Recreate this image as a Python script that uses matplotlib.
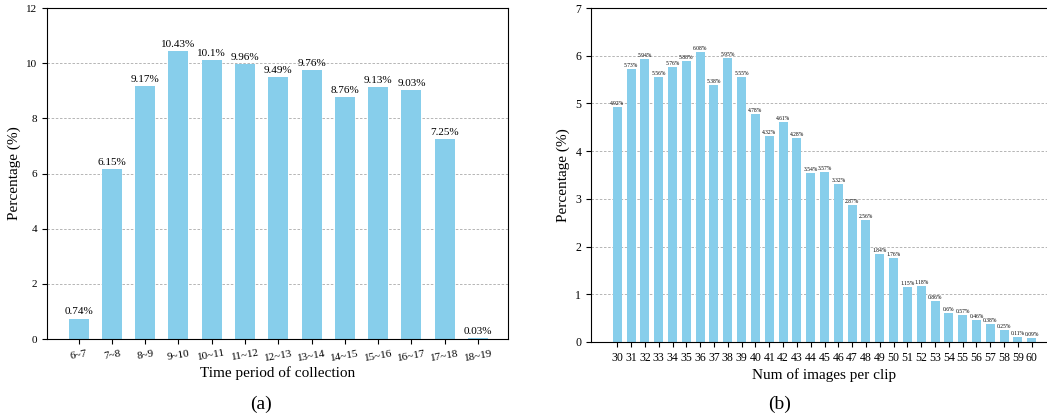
import numpy as np
from matplotlib import pyplot as plt

plt.rcParams['font.family'] = ['Liberation Serif', 'DejaVu Serif']

# (a) time period of collection
periods = ['6~7', '7~8', '8~9', '9~10', '10~11', '11~12', '12~13',
           '13~14', '14~15', '15~16', '16~17', '17~18', '18~19']
period_pct = [0.74, 6.15, 9.17, 10.43, 10.1, 9.96, 9.49,
              9.76, 8.76, 9.13, 9.03, 7.25, 0.03]

# (b) number of images per clip
num_images = list(range(30, 61))
clip_pct = [4.92, 5.73, 5.94, 5.56, 5.76, 5.88, 6.08, 5.38, 5.95, 5.55,
            4.78, 4.32, 4.61, 4.28, 3.54, 3.57, 3.32, 2.87, 2.56, 1.84,
            1.76, 1.15, 1.18, 0.86, 0.6, 0.57, 0.46, 0.38, 0.25, 0.11, 0.09]

bar_color = '#87CEEB'
grid_style = dict(linestyle=(0, (3, 2)), color='#aaaaaa', linewidth=0.6)

fig = plt.figure(figsize=(10.47, 4.19), dpi=100)

# left chart
ax1 = fig.add_axes([0.0449, 0.1909, 0.4403, 0.79])
x1 = np.arange(len(periods))
ax1.bar(x1, period_pct, width=0.6, color=bar_color, zorder=2)
for xi, v in zip(x1, period_pct):
    ax1.text(xi, v + 0.08, f'{v:g}%', ha='center', va='bottom', fontsize=8)
ax1.set_xticks(x1)
ax1.set_xticklabels(periods, rotation=10, fontsize=8)
ax1.set_xlim(-0.95, 12.9)
ax1.set_ylim(0, 12)
ax1.set_yticks(range(0, 13, 2))
ax1.tick_params(axis='y', labelsize=8)
ax1.yaxis.grid(True, **grid_style)
ax1.set_axisbelow(True)
ax1.set_xlabel('Time period of collection', fontsize=11, labelpad=3)
ax1.set_ylabel('Percentage (%)', fontsize=11)

# right chart (cut off at the right edge like the reference)
ax2 = fig.add_axes([0.5645, 0.1838, 0.446, 0.7971])
ax2.bar(num_images, clip_pct, width=0.65, color=bar_color, zorder=2)
for xi, v in zip(num_images, clip_pct):
    ax2.text(xi, v + 0.02, f'{v:g}%', ha='center', va='bottom', fontsize=4)
ax2.set_xticks(num_images)
ax2.tick_params(axis='x', labelsize=8.5)
ax2.tick_params(axis='y', labelsize=8.5)
ax2.set_xlim(28.1, 61.9)
ax2.set_ylim(0, 7)
ax2.set_yticks(range(0, 8))
ax2.yaxis.grid(True, **grid_style)
ax2.set_axisbelow(True)
ax2.set_xlabel('Num of images per clip', fontsize=11, labelpad=3)
ax2.set_ylabel('Percentage (%)', fontsize=11)

fig.text(0.249, 0.035, '(a)', ha='center', va='center', fontsize=14)
fig.text(0.745, 0.035, '(b)', ha='center', va='center', fontsize=14)

fig.savefig('out.png', dpi=100)
